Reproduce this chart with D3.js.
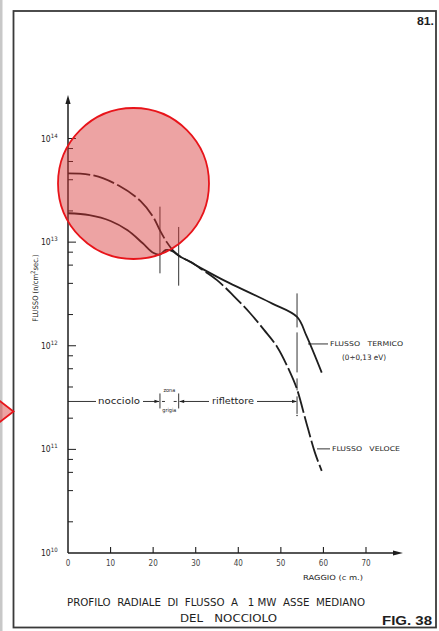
<!DOCTYPE html>
<html>
<head>
<meta charset="utf-8">
<script src="https://cdn.jsdelivr.net/npm/d3@7"></script>
<style>
  html, body { margin: 0; padding: 0; background: #fff; }
  svg { display: block; }
  svg text { white-space: pre; }
</style>
</head>
<body>
<script>
// Radial flux profile along the core mid-plane at 1 MW
// Thermal flux (0÷0,13 eV): radius in cm, flux in n/cm²·s
const radiusThermal = [0, 5, 10, 14, 17.5, 20, 21.6, 23, 24.5, 26, 28.5, 32, 37, 43, 48, 53.8, 56, 59.6];
const fluxThermal   = [1.9e13, 1.82e13, 1.6e13, 1.3e13, 9.8e12, 7.9e12, 7.6e12, 8.4e12, 8.2e12, 7.4e12, 6.5e12, 5.4e12, 4.2e12, 3.2e12, 2.55e12, 1.9e12, 1.25e12, 5.5e11];

// Fast flux
const radiusFast = [0, 6, 12, 17, 20, 21.6, 23.2, 24.7, 26.5, 29, 31, 35, 39, 42.8, 46, 49.1, 52.2, 53.8, 56, 58, 59.6];
const fluxFast   = [4.6e13, 4.4e13, 3.5e13, 2.5e13, 1.75e13, 1.3e13, 1.0e13, 8.3e12, 7.2e12, 6.4e12, 5.6e12, 4.3e12, 3.0e12, 2.06e12, 1.43e12, 9.8e11, 5.5e11, 3.8e11, 1.8e11, 9.3e10, 6.2e10];

// Axis ticks
const xTickValues = [0, 10, 20, 30, 40, 50, 60, 70];
const xTickLabels = ["0", "10", "20", "30", "40", "50", "60", "70"];
const yDecades = [1e10, 1e11, 1e12, 1e13, 1e14];
const yDecadeExponents = ["10", "11", "12", "13", "14"];
const yMinorMultipliers = [2, 4, 6, 8];

// Zone boundaries (cm): core edge, grey zone edge, reflector edge
const zoneBoundaries = [21.6, 26, 53.8];
// Vertical extent of each boundary marker (flux range)
const boundaryFluxTop    = [2.2e13, 1.4e13, 3.2e12];
const boundaryFluxBottom = [5.0e12, 3.8e12, 2.2e11];
const zoneArrowFlux = 2.9e11;

// Text
const yAxisTitle = "FLUSSO (n/cm";
const xAxisTitle = "RAGGIO (c m.)";
const titleLines = ["PROFILO  RADIALE  DI  FLUSSO  A   1 MW  ASSE  MEDIANO", "DEL   NOCCIOLO"];
const thermalLabel = ["FLUSSO   TERMICO", "(0÷0,13 eV)"];
const fastLabel = "FLUSSO   VELOCE";

const W = 439, H = 631;
const FONT = "'Liberation Sans Narrow', 'DejaVu Sans Condensed', 'Liberation Sans', sans-serif";
const INK = "#1e1e1e";

const svg = d3.select("body").append("svg")
  .attr("width", W).attr("height", H)
  .attr("viewBox", `0 0 ${W} ${H}`);

svg.append("rect").attr("width", W).attr("height", H).attr("fill", "#fff");

// page edge and sheet frame
svg.append("rect").attr("x", 0).attr("y", 0).attr("width", 2.5).attr("height", H).attr("fill", "#c8c8c8");
svg.append("rect").attr("x", 13.5).attr("y", 11).attr("width", 422.5).attr("height", 616.5)
  .attr("fill", "none").attr("stroke", "#3a3a3a").attr("stroke-width", 1.8);

const x = d3.scaleLinear().domain([0, 70]).range([68, 366]);
const y = d3.scaleLog().domain([1e10, 1e14]).range([553, 138.5]);

const g = svg.append("g");

// ---- axes ----
const x0 = x(0), yBase = y(1e10);
g.append("line").attr("x1", x0).attr("x2", x0).attr("y1", yBase).attr("y2", 100)
  .attr("stroke", INK).attr("stroke-width", 1.5);
g.append("path").attr("d", `M${x0},95 L${x0 - 2.6},104 L${x0 + 2.6},104 Z`).attr("fill", INK);

g.append("line").attr("x1", x0).attr("x2", 396).attr("y1", yBase).attr("y2", yBase)
  .attr("stroke", INK).attr("stroke-width", 1.5);
g.append("path").attr("d", `M403,${yBase} L393,${yBase - 2.6} L393,${yBase + 2.6} Z`).attr("fill", INK);

// y ticks: decades and minor marks
const minorVals = [];
yDecades.slice(0, -1).forEach(d => yMinorMultipliers.forEach(m => minorVals.push(d * m)));
g.selectAll(".ymin").data(minorVals).join("line")
  .attr("x1", x0).attr("x2", x0 + 5).attr("y1", d => y(d)).attr("y2", d => y(d))
  .attr("stroke", INK).attr("stroke-width", 1);
g.selectAll(".ymaj").data(yDecades.slice(1)).join("line")
  .attr("x1", x0).attr("x2", x0 + 8).attr("y1", d => y(d)).attr("y2", d => y(d))
  .attr("stroke", INK).attr("stroke-width", 1);

const yLab = g.selectAll(".ylab").data(yDecades).join("text")
  .attr("x", 41).attr("y", d => y(d) + 3)
  .attr("font-family", FONT).attr("font-size", 8.5).attr("fill", INK);
yLab.append("tspan").text("10");
yLab.append("tspan").attr("dy", -4).attr("font-size", 6).text((d, i) => yDecadeExponents[i]);

// x ticks
g.selectAll(".xt").data(xTickValues.slice(1)).join("line")
  .attr("x1", d => x(d)).attr("x2", d => x(d)).attr("y1", yBase).attr("y2", yBase - 6)
  .attr("stroke", INK).attr("stroke-width", 1.1);
g.selectAll(".xl").data(xTickValues).join("text")
  .attr("x", d => x(d)).attr("y", 565.5).attr("text-anchor", "middle")
  .attr("font-family", FONT).attr("font-size", 8).attr("fill", "#444")
  .text((d, i) => xTickLabels[i]);

// axis titles
const yt = g.append("text").attr("transform", "translate(38,288) rotate(-90)")
  .attr("text-anchor", "middle").attr("font-family", FONT).attr("font-size", 7.5).attr("fill", INK);
yt.append("tspan").text(yAxisTitle);
yt.append("tspan").attr("dy", -3).attr("font-size", 6).text("2");
yt.append("tspan").attr("dy", 3).text("sec.)");

g.append("text").attr("x", 303).attr("y", 579.5).attr("textLength", 60).attr("lengthAdjust", "spacingAndGlyphs")
  .attr("font-family", FONT).attr("font-size", 7).attr("fill", INK).text(xAxisTitle);

// chart title and figure number
g.append("text").attr("x", 67).attr("y", 605.5).attr("textLength", 298).attr("lengthAdjust", "spacingAndGlyphs")
  .attr("font-family", FONT).attr("font-size", 10.5).attr("fill", INK).text(titleLines[0]);
g.append("text").attr("x", 180).attr("y", 622).attr("textLength", 97).attr("lengthAdjust", "spacingAndGlyphs")
  .attr("font-family", FONT).attr("font-size", 10.5).attr("fill", INK).text(titleLines[1]);
g.append("text").attr("x", 382).attr("y", 625).attr("textLength", 50).attr("lengthAdjust", "spacingAndGlyphs")
  .attr("font-family", "'Liberation Sans', sans-serif").attr("font-weight", "bold")
  .attr("font-size", 12).attr("fill", INK).text("FIG. 38");
g.append("text").attr("x", 417).attr("y", 25).attr("textLength", 17).attr("lengthAdjust", "spacingAndGlyphs")
  .attr("font-family", "'Liberation Sans', sans-serif").attr("font-weight", "bold")
  .attr("font-size", 11).attr("fill", INK).text("81.");

// ---- zone boundary markers ----
zoneBoundaries.forEach((r, i) => {
  g.append("line").attr("x1", x(r)).attr("x2", x(r))
    .attr("y1", y(boundaryFluxTop[i])).attr("y2", y(boundaryFluxBottom[i]))
    .attr("stroke", "#333").attr("stroke-width", 1)
    .attr("stroke-dasharray", i === 2 ? "34,5,40,6,12,6" : null);
});
g.append("circle").attr("cx", x(zoneBoundaries[2])).attr("cy", y(zoneArrowFlux) + 14).attr("r", 0.8).attr("fill", "#333");

// ---- zone annotation (nocciolo | zona grigia | riflettore) ----
const ya = y(zoneArrowFlux);
const xc = x(zoneBoundaries[0]), xg = x(zoneBoundaries[1]), xr = x(zoneBoundaries[2]);
function seg(a, b) {
  g.append("line").attr("x1", a).attr("x2", b).attr("y1", ya).attr("y2", ya).attr("stroke", INK).attr("stroke-width", 0.9);
}
function head(px, dir) {
  g.append("path").attr("d", `M${px},${ya} L${px - dir * 5},${ya - 1.6} L${px - dir * 5},${ya + 1.6} Z`).attr("fill", INK);
}
seg(x0, 96); seg(143, xc - 1); head(xc - 0.5, 1);
g.append("text").attr("x", 98).attr("y", ya + 3).attr("textLength", 42).attr("lengthAdjust", "spacingAndGlyphs")
  .attr("font-family", FONT).attr("font-size", 9).attr("fill", INK).text("nocciolo");
[xc, xg].forEach(px => g.append("line").attr("x1", px).attr("x2", px).attr("y1", ya - 8).attr("y2", ya + 7)
  .attr("stroke", INK).attr("stroke-width", 0.9));
seg(xc + 2, xc + 5); seg(xg - 5, xg - 2);
g.append("text").attr("x", (xc + xg) / 2).attr("y", ya - 9).attr("text-anchor", "middle")
  .attr("font-family", FONT).attr("font-size", 5.5).attr("fill", INK).text("zona");
g.append("text").attr("x", (xc + xg) / 2).attr("y", ya + 11).attr("text-anchor", "middle")
  .attr("font-family", FONT).attr("font-size", 5.5).attr("fill", INK).text("grigia");
head(xg + 0.5, -1); seg(xg + 1, 209);
g.append("text").attr("x", 212).attr("y", ya + 3).attr("textLength", 42).attr("lengthAdjust", "spacingAndGlyphs")
  .attr("font-family", FONT).attr("font-size", 9).attr("fill", INK).text("riflettore");
seg(257, xr - 1); head(xr, 1);

// ---- flux curves ----
const line = d3.line().x(d => x(d[0])).y(d => y(d[1])).curve(d3.curveCatmullRom.alpha(0.5));
const thermal = radiusThermal.map((r, i) => [r, fluxThermal[i]]);
const fast = radiusFast.map((r, i) => [r, fluxFast[i]]);

g.append("path").attr("d", line(thermal)).attr("fill", "none")
  .attr("stroke", INK).attr("stroke-width", 1.8).attr("stroke-linejoin", "round");
g.append("path").attr("d", line(fast)).attr("fill", "none")
  .attr("stroke", INK).attr("stroke-width", 1.8).attr("stroke-dasharray", "22,3.5");

// curve labels with leaders
const tyL = y(1.3e12) + 10;
g.append("line").attr("x1", 308).attr("x2", 328).attr("y1", tyL).attr("y2", tyL).attr("stroke", INK).attr("stroke-width", 0.9);
g.append("text").attr("x", 330).attr("y", tyL + 2.5).attr("textLength", 73).attr("lengthAdjust", "spacingAndGlyphs")
  .attr("font-family", FONT).attr("font-size", 6.5).attr("fill", INK).text(thermalLabel[0]);
g.append("text").attr("x", 342).attr("y", tyL + 16).attr("textLength", 44).attr("lengthAdjust", "spacingAndGlyphs")
  .attr("font-family", FONT).attr("font-size", 7.5).attr("fill", INK).text(thermalLabel[1]);

const fyL = y(1e11) - 0.5;
g.append("line").attr("x1", 317).attr("x2", 330).attr("y1", fyL).attr("y2", fyL).attr("stroke", INK).attr("stroke-width", 0.9);
g.append("text").attr("x", 332).attr("y", fyL + 2.5).attr("textLength", 68).attr("lengthAdjust", "spacingAndGlyphs")
  .attr("font-family", FONT).attr("font-size", 6.5).attr("fill", INK).text(fastLabel);

// ---- highlight markers ----
svg.append("circle").attr("cx", 133.5).attr("cy", 183.5).attr("r", 75.5)
  .attr("fill", "rgba(214,52,52,0.45)").attr("stroke", "#e8141a").attr("stroke-width", 1.8);
svg.append("path").attr("d", "M-4,398 L13.5,411.5 L-4,425 Z")
  .attr("fill", "rgba(214,52,52,0.45)").attr("stroke", "#e8141a").attr("stroke-width", 1.8);
</script>
</body>
</html>
